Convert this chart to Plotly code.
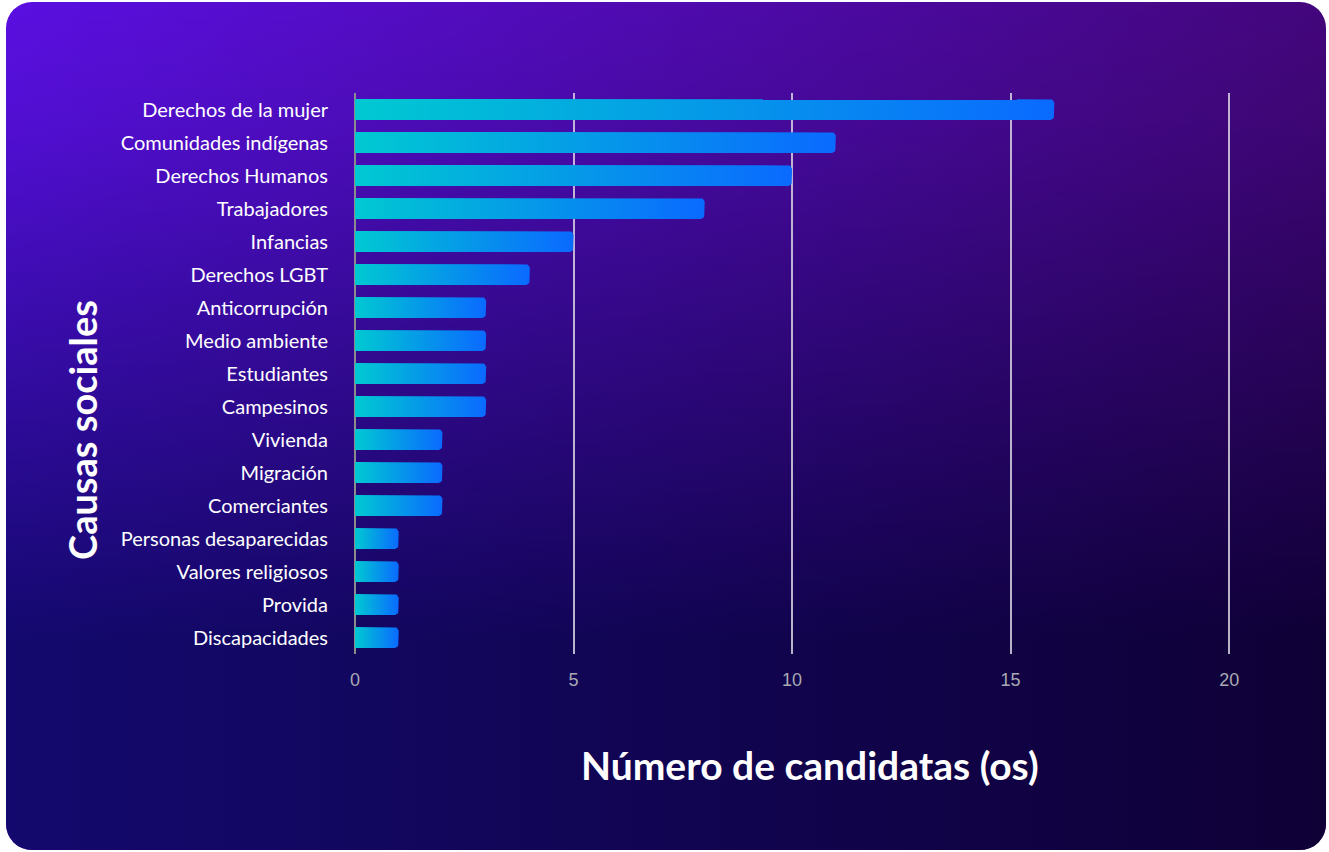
import base64
import numpy as np
import plotly.graph_objects as go

categories = [
    "Derechos de la mujer", "Comunidades indígenas", "Derechos Humanos", "Trabajadores",
    "Infancias", "Derechos LGBT", "Anticorrupción", "Medio ambiente", "Estudiantes",
    "Campesinos", "Vivienda", "Migración", "Comerciantes", "Personas desaparecidas",
    "Valores religiosos", "Provida", "Discapacidades",
]
values = [16, 11, 10, 8, 5, 4, 3, 3, 3, 3, 2, 2, 2, 1, 1, 1, 1]
x_ticks = [0, 5, 10, 15, 20]

W, H = 1329, 852
ML, MR, MT, MB = 355, 78, 93, 198
PW, PH = W - ML - MR, H - MT - MB
XMAX = 20.5
N = len(categories)

fig = go.Figure()

# bars as filled polygons with rounded right ends and horizontal gradient
half = 0.32
rx_px, ry_px = 4.5, 4.5
rx = rx_px * XMAX / PW
ry = ry_px * N / PH
t = np.linspace(0, np.pi / 2, 8)
for i, (cat, v) in enumerate(zip(categories, values)):
    y0, y1 = i - half, i + half
    xs = [0, v - rx]
    ys = [y0, y0]
    xs += list(v - rx + rx * np.sin(t))
    ys += list(y0 + ry - ry * np.cos(t))
    xs += list(v - rx + rx * np.cos(t))
    ys += list(y1 - ry + ry * np.sin(t))
    xs += [0, 0]
    ys += [y1, y0]
    fig.add_trace(go.Scatter(
        x=xs, y=ys, mode="lines", fill="toself",
        line=dict(width=0, color="rgba(0,0,0,0)"),
        fillgradient=dict(type="horizontal",
                          colorscale=[[0, "#00c9d2"], [1, "#0a6aff"]]),
        hoverinfo="skip", showlegend=False,
    ))

# background card (rounded, gradient)
svg = f'''<svg xmlns="http://www.w3.org/2000/svg" width="{W}" height="{H}" viewBox="0 0 {W} {H}">
<defs>
<linearGradient id="top" x1="0" y1="0" x2="1" y2="0">
<stop offset="0" stop-color="#5b10e2"/><stop offset="1" stop-color="#44077c"/>
</linearGradient>
<linearGradient id="bot" x1="0" y1="0" x2="1" y2="0">
<stop offset="0" stop-color="#13096e"/><stop offset="1" stop-color="#0f0036"/>
</linearGradient>
<linearGradient id="mg" x1="0" y1="0" x2="0" y2="1">
<stop offset="0" stop-color="#000"/><stop offset="0.15" stop-color="#222"/><stop offset="0.75" stop-color="#fff"/><stop offset="1" stop-color="#fff"/>
</linearGradient>
<mask id="m"><rect x="0" y="0" width="{W}" height="{H}" fill="url(#mg)"/></mask>
<clipPath id="c"><rect x="6" y="2" width="1320" height="848" rx="26" ry="26"/></clipPath>
</defs>
<g clip-path="url(#c)">
<rect x="0" y="0" width="{W}" height="{H}" fill="url(#top)"/>
<rect x="0" y="0" width="{W}" height="{H}" fill="url(#bot)" mask="url(#m)"/>
</g>
</svg>'''
src = "data:image/svg+xml;base64," + base64.b64encode(svg.encode()).decode()

fig.add_layout_image(dict(
    source=src, xref="paper", yref="paper",
    x=-ML / PW, y=1 + MT / PH, sizex=W / PW, sizey=H / PH,
    xanchor="left", yanchor="top", sizing="stretch", layer="below",
))

fig.add_annotation(
    text="Número de candidatas (os)", xref="paper", yref="paper",
    x=(810 - ML) / PW, y=((H - 765) - MB) / PH, xanchor="center", yanchor="middle",
    showarrow=False, font=dict(family="Lato", size=39, color="white", weight=700),
)
fig.add_annotation(
    text="Causas sociales", xref="paper", yref="paper",
    x=(82 - ML) / PW, y=((H - 430) - MB) / PH, xanchor="center", yanchor="middle",
    textangle=-90, showarrow=False,
    font=dict(family="Lato", size=38, color="white", weight=700),
)

fig.update_layout(
    width=W, height=H,
    margin=dict(l=ML, r=MR, t=MT, b=MB, pad=0),
    paper_bgcolor="white", plot_bgcolor="rgba(0,0,0,0)",
    showlegend=False,
    xaxis=dict(
        range=[0, XMAX], tickvals=x_ticks, showgrid=True,
        gridcolor="rgba(215,210,225,0.85)", gridwidth=1.5,
        zeroline=True, zerolinecolor="#8c8c8c", zerolinewidth=2,
        showline=False, ticks="", ticklabelstandoff=13,
        tickfont=dict(family="Arial", size=18, color="#a9a9b2"),
        fixedrange=True,
    ),
    yaxis=dict(
        range=[N - 0.5, -0.5], tickvals=list(range(N)), ticktext=categories,
        showgrid=False, zeroline=False, showline=False, ticks="",
        ticklabelstandoff=26,
        tickfont=dict(family="Lato", size=20, color="white"),
        fixedrange=True,
    ),
)

fig.write_html("out.html", config={"displayModeBar": False},
               post_script="document.body.style.margin='0';document.body.style.overflow='hidden';")
